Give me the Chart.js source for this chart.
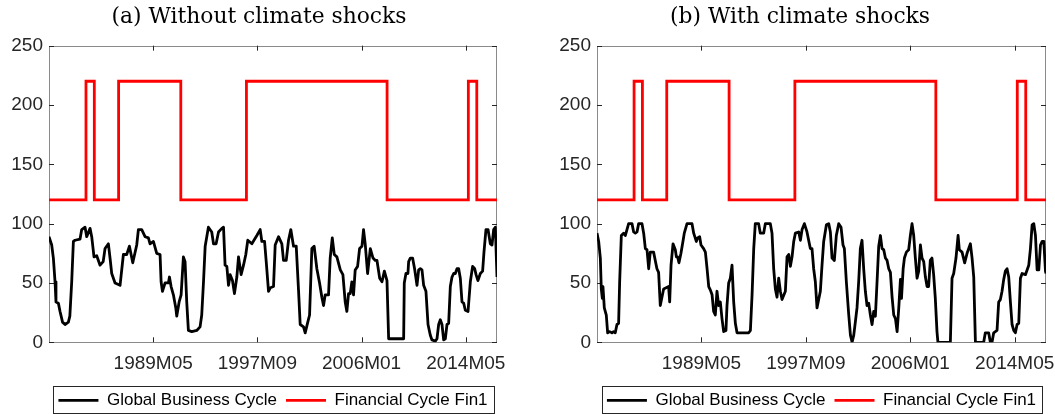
<!DOCTYPE html>
<html><head><meta charset="utf-8">
<script src="https://cdn.jsdelivr.net/npm/chart.js@4/dist/chart.umd.min.js"></script>
<style>
html,body{margin:0;padding:0;background:#fff;width:1055px;height:414px;overflow:hidden}
.p{position:absolute;top:0;height:414px}
#wa{left:0;width:527px}
#wb{left:527px;width:528px}
</style></head><body>
<div class="p" id="wa"><canvas id="ca"></canvas></div>
<div class="p" id="wb"><canvas id="cb"></canvas></div>
<script>
// x axis: months since 1981M01
const tickMonths = [100, 200, 300, 400];
const tickLabels = ['1989M05', '1997M09', '2006M01', '2014M05'];
const yTicks = [0, 50, 100, 150, 200, 250];
const titles = ['(a) Without climate shocks', '(b) With climate shocks'];
const seriesNames = ['Global Business Cycle', 'Financial Cycle Fin1'];

// Financial cycle regime (step changes)
const finMonths = [0, 35.5, 43.5, 66.8, 126.5, 189.5, 324.5, 402.5, 410.6, 430];
const finValues = [120, 220, 120, 220, 120, 220, 120, 220, 120, 120];

// Global business cycle, panel (a)
const gbcMonthsA = [0,2.6,4.2,5.8,6.7,9,10.6,13,15.4,18.6,20,21.8,23.4,25,29.8,31.4,34.6,36.2,39.4,41,43.2,45.8,49,52,53.8,57,58.6,60.2,63.4,68.2,71.4,74.6,77.2,80.4,84.2,85.8,89,92.2,95.4,97,100.2,103.4,106.6,107.6,108.9,111.4,114.6,115.6,117.2,119.4,121.7,122.6,124.9,126.8,129,130.6,132.2,133.8,137,141.8,145,146.6,148.3,149.9,153,156.2,157.9,160.4,162.7,165.9,167.5,169,170.7,172.3,173.9,176.1,178,180.3,181.9,184.4,186.7,188.9,190.8,194.7,199.5,202.7,204.3,206.9,208.5,210.7,212.5,215.5,217.1,220.3,223.5,225.1,227.7,229.9,232.1,234.7,237.3,239.5,241.1,244.3,245.9,248.1,250.1,252.3,254.5,257.1,259.7,261.9,263.5,265.1,268.3,269.9,271.9,273.8,276.3,279.6,282.1,284.3,285.9,287.5,289.1,290.7,292.3,293.9,296.2,298.1,300.4,301.9,303.6,305.8,308.4,311,313.2,314.8,317.4,319.6,321.9,324.4,326,340.4,341,342.6,344.5,345.2,346.8,349,350.9,353.2,354.8,356.4,358,359.6,361.8,363.8,366,367.6,370.8,372.4,374,375.6,377.2,378.8,380.4,382,383.6,385.2,386.8,388.4,390,391.6,393.2,394.8,396.4,398,399.6,402.2,404.4,406.6,408.6,409.9,411.7,414,416.2,417.5,419.4,421.4,423.6,425.2,426.8,428.4,430];
const gbcValuesA = [89,82,71,51,34,33,26,17,15,17,22,51,85,86,87,95,97,89,96,89,72,73,65,68,79,83,71,58,50,48,74,74,81,67,82,95,95,89,88,83,85,75,74,51,43,50,50,55,47,40,29,22,34,40,72,68,34,10,9,10,13,23,51,81,97,93,83,83,93,96,97,65,64,48,57,52,41,55,72,57,65,74,86,83,90,95,85,85,68,43,46,47,82,89,83,69,69,86,95,81,81,44,15,13,8,16,23,79,81,62,50,38,31,40,40,71,88,74,72,61,57,34,26,41,41,51,40,61,64,79,81,95,82,58,79,71,69,69,54,51,60,52,3,3,50,58,58,68,71,71,62,48,61,62,61,48,43,15,6,2,1,3,15,19,15,2,3,15,16,47,55,58,58,62,62,54,34,33,27,26,51,64,62,57,52,58,60,76,95,95,83,82,95,97,55];

// Global business cycle, panel (b)
const gbcMonthsB = [0,1.6,3.2,4.1,5.1,5.7,7,8.9,10.2,12.1,14.3,15.9,17.5,19.1,20.7,21.7,23.3,25.5,27.1,28.7,30.3,33.5,35.1,36.7,38.3,39.9,43.1,44.7,46.3,47.9,49.5,51,54.2,55.8,57.4,59,60.6,62.2,63.8,68.6,69.6,70.9,72.8,75,76,77.2,78.5,80.4,82.3,83.6,86.2,91,92.6,95.1,96.4,98.3,99.6,102.1,103.8,105.4,107,108.6,110.2,111.7,113.3,114.9,116.5,118.1,119.7,121.3,123.5,124.5,126.1,127.7,129.3,130.9,132.5,134.1,145.3,146.9,148.5,150.1,151.6,154.8,156.4,159.6,161.2,166,167.6,169.2,170.8,172.4,174,175.6,177.2,180.4,182,183.6,185.2,186.8,188.4,190,193.2,194.8,196.4,198.6,201.1,202.7,204.3,205.9,207.5,209.1,210.7,212.3,213.9,215.5,217.1,219.7,221.9,223.5,225.1,227.3,229.2,231.5,233.7,235.6,236.9,238.8,241.1,242.7,244.3,245.9,247.4,249,250.6,252.2,253.8,255.4,257,258.6,260.2,261.8,263.4,265,266.6,268.2,269.8,271.4,273,274.6,276.2,277.8,279.4,281,282.6,284.2,285.8,287.4,289,290.6,291.6,293.2,294.4,296.3,298.5,300.1,301.7,303.3,304.9,306.5,308.1,309.7,311.3,312.9,314.5,316.1,317.6,319.2,320.8,322.4,324,325.6,326.5,338.4,340,341.6,343.8,345.8,347,349.6,352.1,354.4,357.6,359.2,360.8,362.4,370.3,371.9,375.1,376.7,378.3,379.9,383.1,384.7,386.3,387.9,389.5,391.1,392.7,394.3,395.9,397.5,399.1,400.7,402.3,403.9,405.5,407.1,410.3,411.9,413.5,415.1,416.7,418.3,419.9,421.5,423.1,424.7,426.3,427.9,429.5,430];
const gbcValuesB = [92,85,71,45,37,47,29,23,8,9,8,9,8,15,16,51,90,92,90,95,100,100,93,92,93,100,100,92,79,78,62,76,76,69,62,59,31,38,45,47,34,65,83,78,72,72,67,75,85,92,100,100,92,85,88,89,82,79,76,62,47,44,40,26,23,43,31,34,20,9,10,31,50,54,65,34,16,8,8,10,40,79,100,100,92,92,100,100,92,62,45,38,54,43,36,43,72,74,64,72,85,92,93,86,95,100,93,86,79,79,62,51,29,36,43,65,85,99,100,93,71,69,90,100,97,82,79,51,23,6,0,6,17,29,51,79,86,62,43,31,33,23,15,26,22,51,81,90,79,78,71,69,62,59,38,23,20,9,29,53,37,62,71,76,78,90,100,90,71,54,60,82,71,68,55,47,47,69,71,57,37,9,0,0,54,58,71,90,78,76,67,75,83,71,55,0,0,8,8,0,0,8,10,34,36,43,53,60,62,55,34,15,10,8,15,16,54,58,57,61,65,79,99,100,90,61,61,82,85,85,60,58];

Chart.defaults.font.family = '"Liberation Sans", Arial, sans-serif';
Chart.defaults.color = '#262626';

const framePlugin = {
  id: 'frame',
  beforeDatasetsDraw(chart) {
    const {ctx, chartArea: a, scales: {x, y}} = chart;
    const L = 5;
    ctx.save();
    ctx.lineWidth = 1;
    ctx.strokeStyle = '#8a8a8a';
    ctx.strokeRect(Math.round(a.left) + 0.5, Math.round(a.top) + 0.5,
      Math.round(a.right - a.left) - 1, Math.round(a.bottom - a.top) - 1);
    ctx.strokeStyle = '#262626';
    ctx.beginPath();
    tickMonths.forEach(m => {
      const px = Math.round(x.getPixelForValue(m)) + 0.5;
      ctx.moveTo(px, a.bottom); ctx.lineTo(px, a.bottom - L);
      ctx.moveTo(px, a.top); ctx.lineTo(px, a.top + L);
    });
    yTicks.forEach(v => {
      const py = Math.round(y.getPixelForValue(v)) + 0.5;
      ctx.moveTo(a.left, py); ctx.lineTo(a.left + L, py);
      ctx.moveTo(a.right, py); ctx.lineTo(a.right - L, py);
    });
    ctx.stroke();
    ctx.restore();
  },
  afterDraw(chart) {
    const hb = chart.legend && chart.legend.legendHitBoxes;
    if (!hb || !hb.length) return;
    const first = hb[0], last = hb[hb.length - 1];
    const cy = first.top + first.height / 2;
    const ctx = chart.ctx;
    ctx.save();
    ctx.lineWidth = 1;
    ctx.strokeStyle = '#262626';
    const l = Math.round(first.left - 5) + 0.5;
    const r = Math.round(last.left + last.width + 6) + 0.5;
    const t = Math.round(cy - 14.5) + 0.5;
    const b = Math.round(cy + 12.5) + 0.5;
    ctx.strokeRect(l, t, r - l, b - t);
    ctx.restore();
  }
};

function makeChart(id, months, values, title, padLeft, yWidth, padRight, rightWidth) {
  const black = months.map((m, i) => ({x: m, y: values[i]}));
  const red = finMonths.map((m, i) => ({x: m, y: finValues[i]}));
  const scales = {
    x: {type: 'linear', min: 0, max: 430,
      grid: {display: false, drawTicks: false}, border: {display: false},
      afterBuildTicks: s => { s.ticks = tickMonths.map(v => ({value: v})); },
      afterFit: s => { s.height = 40.6; s.paddingLeft = 0; s.paddingRight = 0; },
      ticks: {padding: 10, font: {size: 19}, maxRotation: 0, autoSkip: false,
        callback: v => { const i = tickMonths.indexOf(v); return i >= 0 ? tickLabels[i] : ''; }}},
    y: {min: 0, max: 250,
      grid: {display: false, drawTicks: false}, border: {display: false},
      afterBuildTicks: s => { s.ticks = yTicks.map(v => ({value: v})); },
      afterFit: s => { s.width = yWidth; },
      ticks: {padding: 6, font: {size: 19}}}
  };
  if (rightWidth > 0) {
    scales.yr = {position: 'right', min: 0, max: 250,
      grid: {display: false, drawTicks: false}, border: {display: false},
      ticks: {display: false},
      afterFit: s => { s.width = rightWidth; s.paddingTop = 0; s.paddingBottom = 0; }};
  }
  return new Chart(document.getElementById(id), {
    type: 'line',
    data: {
      datasets: [
        {label: seriesNames[0], data: black, borderColor: '#000000', backgroundColor: '#000000',
         borderWidth: 2.8, pointRadius: 0, tension: 0, borderJoinStyle: 'round'},
        {label: seriesNames[1], data: red, borderColor: '#ff0000', backgroundColor: '#ff0000',
         borderWidth: 2.8, pointRadius: 0, stepped: true}
      ]
    },
    options: {
      responsive: true,
      maintainAspectRatio: false,
      animation: false,
      devicePixelRatio: 1,
      layout: {padding: {left: padLeft, right: padRight, top: 0, bottom: -4.9}},
      plugins: {
        tooltip: {enabled: false},
        title: {display: true, text: title, color: '#000',
          font: {family: '"DejaVu Serif", serif', size: 21.8, weight: 'normal'},
          padding: {top: 4.5, bottom: 15}},
        legend: {position: 'bottom', fullSize: false,
          labels: {usePointStyle: true, pointStyle: 'line', pointStyleWidth: 40,
            color: '#000', font: {size: 17}, padding: 9}}
      },
      scales
    },
    plugins: [framePlugin]
  });
}

makeChart('ca', gbcMonthsA, gbcValuesA, titles[0], 0, 49, 9, 21);
makeChart('cb', gbcMonthsB, gbcValuesB, titles[1], 27, 43, 9, 0);
</script>
</body></html>
